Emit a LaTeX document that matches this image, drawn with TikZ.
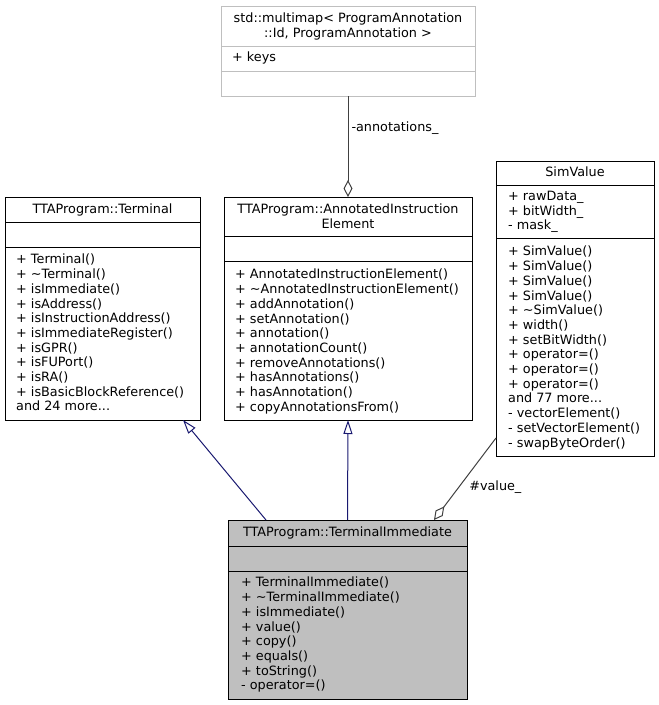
\documentclass[tikz,border=0pt]{standalone}
\usepackage{fontspec}
\setmainfont{DejaVu Sans}
\usetikzlibrary{arrows.meta}
\definecolor{edgeblue}{HTML}{191970}
\definecolor{edgegray}{HTML}{404040}
\definecolor{tmplgray}{HTML}{BFBFBF}
\definecolor{curfill}{HTML}{BFBFBF}

\begin{document}
\begin{tikzpicture}[x=1pt,y=-1pt,line join=miter,font=\fontsize{12.8}{14.7}\selectfont,
  classbox/.style={draw=black,line width=1pt,rectangle,anchor=north west,inner sep=0,outer sep=0},
  sepline/.style={line width=1pt},
  ttl/.style={inner sep=0,align=center,anchor=north},
  txt/.style={inner sep=0,align=left,anchor=north west},
  inherit/.style={draw=edgeblue,line width=1pt,-{Triangle[open,length=14pt,width=9pt]}},
  aggr/.style={draw=edgegray,line width=1pt,-{Diamond[open,length=17pt,width=9pt]}},
  lbl/.style={inner sep=0,anchor=west}]
\useasboundingbox (0,0) rectangle (659,705);

% class boxes
\node[classbox,draw=tmplgray,minimum width=254,minimum height=90] (mmap) at (221,6) {};
\node[classbox,minimum width=195,minimum height=223] (terminal) at (5,197) {};
\node[classbox,minimum width=248,minimum height=223] (aie) at (224,197) {};
\node[classbox,minimum width=158,minimum height=295] (simval) at (496,161) {};
\node[classbox,fill=curfill,minimum width=239,minimum height=179] (ti) at (228,520) {};

% compartments
\foreach \y in {46,71} \draw[sepline,draw=tmplgray] (mmap.west |- 0,\y) -- (mmap.east |- 0,\y);
\foreach \y in {222,247} \draw[sepline] (terminal.west |- 0,\y) -- (terminal.east |- 0,\y);
\foreach \y in {236,261} \draw[sepline] (aie.west |- 0,\y) -- (aie.east |- 0,\y);
\foreach \y in {185,238} \draw[sepline] (simval.west |- 0,\y) -- (simval.east |- 0,\y);
\foreach \y in {546,571} \draw[sepline] (ti.west |- 0,\y) -- (ti.east |- 0,\y);

% texts
\node[ttl] (mmapTitle) at (mmap.north |- 0,13) {std::multimap< ProgramAnnotation\\::Id, ProgramAnnotation >};
\node[txt] (mmapAttr) at (232,52) {+ keys};

\node[ttl] (terminalTitle) at (terminal.north |- 0,204) {TTAProgram::Terminal};
\node[txt] (terminalOps) at (16,254) {+ Terminal()\\+ \textasciitilde Terminal()\\+ isImmediate()\\+ isAddress()\\+ isInstructionAddress()\\+ isImmediateRegister()\\+ isGPR()\\+ isFUPort()\\+ isRA()\\+ isBasicBlockReference()\\and 24 more...};

\node[ttl] (aieTitle) at (aie.north |- 0,204) {TTAProgram::AnnotatedInstruction\\Element};
\node[txt] (aieOps) at (235,269) {+ AnnotatedInstructionElement()\\+ \textasciitilde AnnotatedInstructionElement()\\+ addAnnotation()\\+ setAnnotation()\\+ annotation()\\+ annotationCount()\\+ removeAnnotations()\\+ hasAnnotations()\\+ hasAnnotation()\\+ copyAnnotationsFrom()};

\node[ttl] (simvalTitle) at (simval.north |- 0,167) {SimValue};
\node[txt] (simvalAttr) at (508,191) {+ rawData\_\\+ bitWidth\_\\- mask\_};
\node[txt] (simvalOps) at (508,246) {+ SimValue()\\+ SimValue()\\+ SimValue()\\+ SimValue()\\+ \textasciitilde SimValue()\\+ width()\\+ setBitWidth()\\+ operator=()\\+ operator=()\\+ operator=()\\and 77 more...\\- vectorElement()\\- setVectorElement()\\- swapByteOrder()};

\node[ttl] (tiTitle) at (ti.north |- 0,527) {TTAProgram::TerminalImmediate};
\node[txt] (tiOps) at (241,577) {+ TerminalImmediate()\\+ \textasciitilde TerminalImmediate()\\+ isImmediate()\\+ value()\\+ copy()\\+ equals()\\+ toString()\\- operator=()};

% connectors
\coordinate[xshift=-17] (termFoot) at (terminal.south east);
\coordinate[xshift=38] (tiLeft) at (ti.north west);
\coordinate[xshift=-33] (tiRight) at (ti.north east);
\coordinate[yshift=18] (simFoot) at (simval.south west);

\draw[inherit] (tiLeft) -- (termFoot);
\draw[inherit] (ti.north) -- (aie.south);
\draw[aggr] (simFoot) -- (tiRight) node[lbl,pos=0.6,xshift=10] (valueLbl) {\#value\_};
\draw[aggr] (mmap.south) -- (aie.north) node[lbl,pos=0.32,xshift=3] (annLbl) {-annotations\_};
\end{tikzpicture}
\end{document}
